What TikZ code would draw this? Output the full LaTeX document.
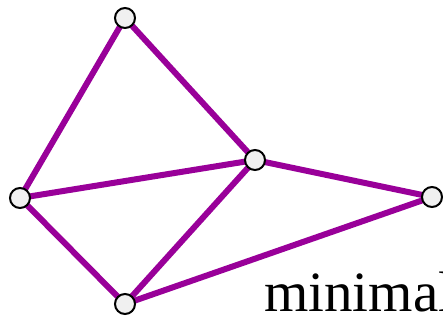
\documentclass[tikz,border=0pt]{standalone}
\usepackage{fontspec}
\setmainfont{Liberation Serif}
\definecolor{edgepurple}{HTML}{990099}
\definecolor{nodefill}{HTML}{F0F0F0}
\begin{document}
\begin{tikzpicture}[x=1pt,y=-1pt,
  vert/.style={circle,draw=black,line width=2pt,fill=nodefill,minimum size=20pt,inner sep=0pt},
  edge/.style={draw=edgepurple,line width=6pt}]
\useasboundingbox (0,0) rectangle (443,321);
\clip (0,0) rectangle (443,321);
\coordinate (t) at (125,18);
\coordinate (l) at (20,198);
\coordinate (c) at (255,160);
\coordinate (r) at (432,197);
\coordinate (b) at (125,304);
\path[edge] (t) -- (l);
\path[edge] (t) -- (c);
\path[edge] (l) -- (c);
\path[edge] (l) -- (b);
\path[edge] (b) -- (c);
\path[edge] (b) -- (r);
\path[edge] (c) -- (r);
\node[vert] (nt) at (t) {};
\node[vert] (nl) at (l) {};
\node[vert] (nc) at (c) {};
\node[vert] (nr) at (r) {};
\node[vert] (nb) at (b) {};
\node[anchor=base west,inner sep=0pt,font=\fontsize{57}{64}\selectfont] (lab) at (264,311) {minimal};
\end{tikzpicture}
\end{document}
